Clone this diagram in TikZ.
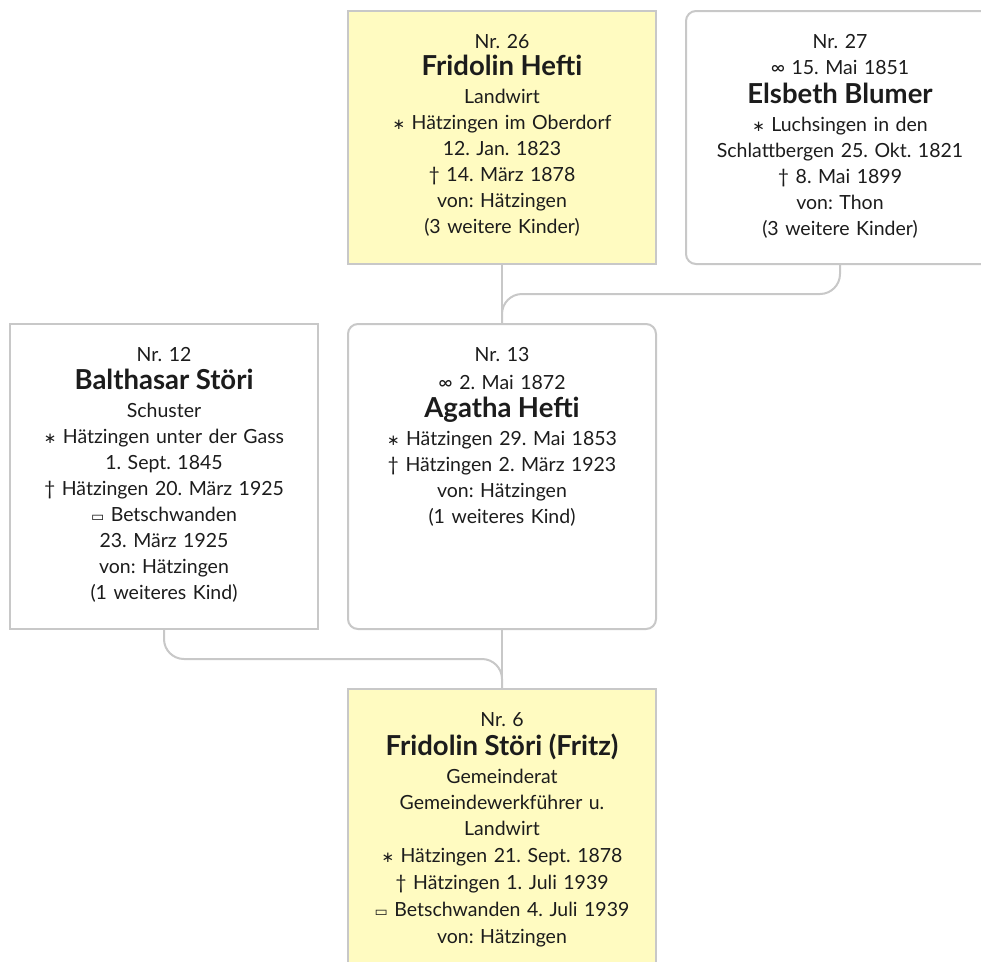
\documentclass[tikz,border=0pt]{standalone}
\usepackage{fontspec}
\setmainfont{Lato}
\newfontfamily\symfont{DejaVu Sans}
\usetikzlibrary{calc}
\definecolor{boxline}{HTML}{C8C8C8}
\definecolor{boxfill}{HTML}{FFFBC1}
\definecolor{ink}{HTML}{1C1C1C}
\frenchspacing
% genealogy symbols
\newcommand\born{{\symfont\fontsize{15}{15}\selectfont ∗}}
\newcommand\died{†}
\newcommand\married{∞}
\newcommand\buried{{\symfont\fontsize{14}{14}\selectfont ▭}}
\newcommand\pname[1]{{\fontsize{27.5}{26}\selectfont\bfseries #1}}
\tikzset{
  person/.style={draw=boxline, line width=2pt, minimum width=308pt, inner sep=0pt, anchor=north west},
  proband/.style={person, fill=boxfill},
  spouse/.style={person, fill=white, rounded corners=10pt},
  plain/.style={person, fill=white},
  info/.style={anchor=north, text width=306pt, align=center, inner sep=0pt,
    font=\fontsize{19.5}{26}\selectfont, text=ink},
  link/.style={draw=boxline, line width=2pt, rounded corners=20pt}
}
\begin{document}
\begin{tikzpicture}[x=1pt,y=-1pt]
\useasboundingbox (0,0) rectangle (981,961);
\clip (0,0) rectangle (981,961);
\fill[white] (0,0) rectangle (981,961);

% boxes
\node[proband, minimum height=253pt] (n26) at (347,10) {};
\node[spouse,  minimum height=253pt] (n27) at (685,10) {};
\node[plain,   minimum height=305pt] (n12) at (9,323) {};
\node[spouse,  minimum height=305pt] (n13) at (347,323) {};
\node[proband, minimum height=300pt] (n6)  at (347,688) {};

% connectors
\draw[link] (n26.south) -- (n13.north);
\draw[link] (n27.south) |- ($(n26.south)!0.5!(n13.north)$) -- (n13.north);
\draw[link] (n13.south) -- (n6.north);
\draw[link] (n12.south) |- ($(n13.south)!0.5!(n6.north)$) -- (n6.north);

% texts
\node[info] (t26) at ($(n26.north)+(0,24)$) {Nr. 26\\[1pt]
  \pname{Fridolin Hefti}\\[2pt]
  Landwirt\\
  \born{} Hätzingen im Oberdorf\\
  12. Jan. 1823\\
  \died{} 14. März 1878\\
  von: Hätzingen\\
  (3 weitere Kinder)};
\node[info] (t27) at ($(n27.north)+(0,24)$) {Nr. 27\\
  \married{} 15. Mai 1851\\[3pt]
  \pname{Elsbeth Blumer}\\[2pt]
  \born{} Luchsingen in den\\
  Schlattbergen 25. Okt. 1821\\
  \died{} 8. Mai 1899\\
  von: Thon\\
  (3 weitere Kinder)};
\node[info] (t12) at ($(n12.north)+(0,24)$) {Nr. 12\\[2pt]
  \pname{Balthasar Störi}\\[2pt]
  Schuster\\
  \born{} Hätzingen unter der Gass\\
  1. Sept. 1845\\
  \died{} Hätzingen 20. März 1925\\
  \buried{} Betschwanden\\
  23. März 1925\\
  von: Hätzingen\\
  (1 weiteres Kind)};
\node[info] (t13) at ($(n13.north)+(0,24)$) {Nr. 13\\[2pt]
  \married{} 2. Mai 1872\\[2pt]
  \pname{Agatha Hefti}\\[2pt]
  \born{} Hätzingen 29. Mai 1853\\
  \died{} Hätzingen 2. März 1923\\
  von: Hätzingen\\
  (1 weiteres Kind)};
\node[info] (t6) at ($(n6.north)+(0,24)$) {Nr. 6\\[3pt]
  \pname{Fridolin Störi (Fritz)}\\[2pt]
  Gemeinderat\\
  Gemeindewerkführer u.\\
  Landwirt\\[1pt]
  \born{} Hätzingen 21. Sept. 1878\\[1pt]
  \died{} Hätzingen 1. Juli 1939\\[1pt]
  \buried{} Betschwanden 4. Juli 1939\\[1pt]
  von: Hätzingen};
\end{tikzpicture}
\end{document}
